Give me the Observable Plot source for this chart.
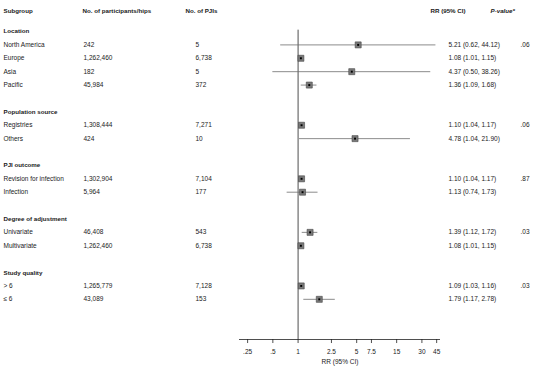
<!DOCTYPE html>
<html><head><meta charset="utf-8">
<script src="https://cdn.jsdelivr.net/npm/d3@7"></script>
<script src="https://cdn.jsdelivr.net/npm/@observablehq/plot@0.6"></script>
<style>body{margin:0;background:#fff}</style>
</head><body><div id="chart"></div>
<script>
const sectionTitles = ["Location","Population source","PJI outcome","Degree of adjustment","Study quality"];
const sectionRows = [0, 6, 10, 14, 18];
const subgroups = ["North America","Europe","Asia","Pacific","Registries","Others","Revision for infection","Infection","Univariate","Multivariate","> 6","≤ 6"];
const rowIndex = [1,2,3,4,7,8,11,12,15,16,19,20];
const participants = ["242","1,262,460","182","45,984","1,308,444","424","1,302,904","5,964","46,408","1,262,460","1,265,779","43,089"];
const pjis = ["5","6,738","5","372","7,271","10","7,104","177","543","6,738","7,128","153"];
const rr = [5.21,1.08,4.37,1.36,1.10,4.78,1.10,1.13,1.39,1.08,1.09,1.79];
const lo = [0.62,1.01,0.50,1.09,1.04,1.04,1.04,0.74,1.12,1.01,1.03,1.17];
const hi = [44.12,1.15,38.26,1.68,1.17,21.90,1.17,1.73,1.72,1.15,1.16,2.78];
const pvals = [".06","","","",".06","",".87","",".03","",".03",""];
const ticks = [0.25,0.5,1,2.5,5,7.5,15,30,45];
const tickLabels = [".25",".5","1","2.5","5","7.5","15","30","45"];
const headers = ["Subgroup","No. of participants/hips","No. of PJIs","RR (95% CI)","P-value*"];
const axisLabel = "RR (95% CI)";

const rows = subgroups.map((s,i)=>({s, y: rowIndex[i], n: participants[i], p: pjis[i], rr: rr[i], lo: lo[i], hi: hi[i],
  txt: `${rr[i].toFixed(2)} (${lo[i].toFixed(2)}, ${hi[i].toFixed(2)})`, pv: pvals[i]}));
const sections = sectionTitles.map((t,i)=>({t, y: sectionRows[i]}));
const tickData = ticks.map((t,i)=>({t, label: tickLabels[i]}));
const headerY = -1.5;
const axisY = 23;
const font = "Liberation Sans, Arial, sans-serif";
const fs = 6.5;
const hfs = 6.2;
const txtFill = "#1a1a1a";

const chart = Plot.plot({
  width: 550, height: 367,
  marginLeft: 239, marginRight: 110, marginTop: 31, marginBottom: 28,
  style: {fontFamily: font, fontSize: fs + "px", color: "#222", background: "#fff"},
  x: {type: "log", domain: [0.2, 50], axis: null},
  y: {domain: [0, 23], reverse: true, axis: null},
  marks: [
    Plot.ruleY([axisY], {stroke: "#222", strokeWidth: 0.8}),
    Plot.ruleX(tickData, {x: "t", y1: axisY, y2: axisY + 0.3, stroke: "#222", strokeWidth: 0.8}),
    Plot.text(tickData, {x: "t", y: axisY + 0.9, text: "label", fill: txtFill}),
    Plot.text([axisLabel], {frameAnchor: "middle", y: axisY + 1.65, text: d=>d, fill: txtFill}),
    Plot.ruleX([1], {y1: -0.1, y2: axisY, stroke: "#222", strokeWidth: 0.8}),
    Plot.ruleY(rows, {x1: "lo", x2: "hi", y: "y", stroke: "#6e6e6e", strokeWidth: 0.8}),
    Plot.dot(rows, {x: "rr", y: "y", symbol: "square", r: 3.4, fill: "#7a7a7a", stroke: "#444", strokeWidth: 0.6}),
    Plot.dot(rows, {x: "rr", y: "y", symbol: "square", r: 1.1, fill: "#000"}),
    // headers
    Plot.text([headers[0]], {frameAnchor: "left", dx: -236, y: [headerY], text: d=>d, textAnchor: "start", fontWeight: "bold", fontSize: hfs, fill: txtFill}),
    Plot.text([headers[1]], {frameAnchor: "left", dx: -157, y: [headerY], text: d=>d, textAnchor: "start", fontWeight: "bold", fontSize: hfs, fill: txtFill}),
    Plot.text([headers[2]], {frameAnchor: "left", dx: -54, y: [headerY], text: d=>d, textAnchor: "start", fontWeight: "bold", fontSize: hfs, fill: txtFill}),
    Plot.text([headers[3]], {frameAnchor: "left", dx: 191, y: [headerY], text: d=>d, textAnchor: "start", fontWeight: "bold", fontSize: hfs, fill: txtFill}),
    Plot.text([headers[4]], {frameAnchor: "left", dx: 251, y: [headerY], text: d=>d, textAnchor: "start", fontWeight: "bold", fontStyle: "italic", fontSize: hfs, fill: txtFill}),
    // sections
    Plot.text(sections, {frameAnchor: "left", dx: -236, y: "y", text: "t", textAnchor: "start", fontWeight: "bold", fontSize: hfs, fill: txtFill}),
    // columns
    Plot.text(rows, {frameAnchor: "left", dx: -236, y: "y", text: "s", textAnchor: "start", fill: txtFill}),
    Plot.text(rows, {frameAnchor: "left", dx: -156, y: "y", text: "n", textAnchor: "start", fill: txtFill}),
    Plot.text(rows, {frameAnchor: "left", dx: -44, y: "y", text: "p", textAnchor: "start", fill: txtFill}),
    Plot.text(rows, {frameAnchor: "left", dx: 209, y: "y", text: "txt", textAnchor: "start", fill: txtFill}),
    Plot.text(rows, {frameAnchor: "left", dx: 281, y: "y", text: "pv", textAnchor: "start", fill: txtFill}),
  ]
});
document.getElementById("chart").appendChild(chart);
</script>
</body></html>
